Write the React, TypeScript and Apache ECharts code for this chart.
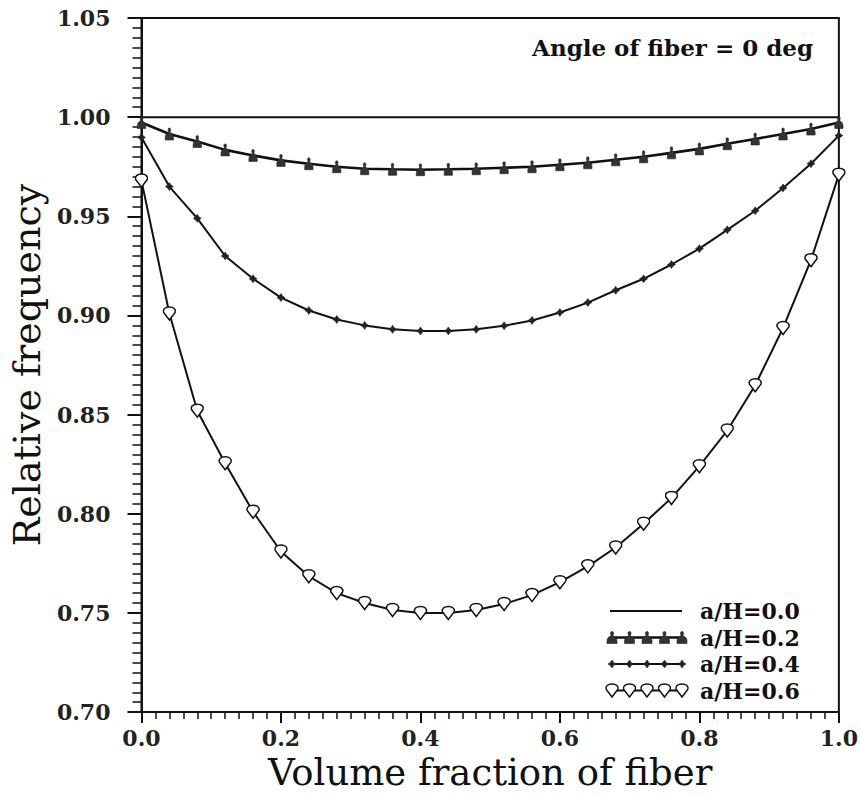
import React, { useEffect, useRef } from "react";
import * as echarts from "echarts";

// ---- data ----
const xValues = [0, 0.04, 0.08, 0.12, 0.16, 0.2, 0.24, 0.28, 0.32, 0.36, 0.4, 0.44, 0.48, 0.52, 0.56, 0.6, 0.64, 0.68, 0.72, 0.76, 0.8, 0.84, 0.88, 0.92, 0.96, 1.0];

const aH00 = [1, 1, 1, 1, 1, 1, 1, 1, 1, 1, 1, 1, 1, 1, 1, 1, 1, 1, 1, 1, 1, 1, 1, 1, 1, 1];

const aH02 = [0.9973, 0.9915, 0.9877, 0.9835, 0.9807, 0.9782, 0.9765, 0.975, 0.974, 0.9737, 0.9735, 0.9737, 0.974, 0.9745, 0.975, 0.976, 0.977, 0.9785, 0.98, 0.982, 0.984, 0.9866, 0.989, 0.9915, 0.994, 0.9973];

const aH04 = [0.9898, 0.965, 0.949, 0.93, 0.9185, 0.909, 0.9025, 0.898, 0.895, 0.893, 0.8922, 0.8922, 0.893, 0.8948, 0.8975, 0.9015, 0.9065, 0.9127, 0.9185, 0.9257, 0.9337, 0.9432, 0.9528, 0.9643, 0.9765, 0.9907];

const aH06 = [0.968, 0.901, 0.852, 0.8255, 0.801, 0.781, 0.7685, 0.76, 0.755, 0.7515, 0.75, 0.75, 0.7515, 0.7545, 0.759, 0.7655, 0.7735, 0.783, 0.795, 0.808, 0.824, 0.842, 0.8648, 0.8937, 0.9279, 0.971];

const seriesNames = ["a/H=0.0", "a/H=0.2", "a/H=0.4", "a/H=0.6"];
const titleText = "Angle of fiber = 0 deg";
const xAxisTitle = "Volume fraction of fiber";
const yAxisTitle = "Relative frequency";

// ---- marker shapes ----
const BELL = "M5,0 C6.6,0 7,1.8 6.1,3.4 L6.1,4.6 C8.7,5.1 10,7.2 10,9.6 L10,12 L0,12 L0,9.6 C0,7.2 1.3,5.1 3.9,4.6 L3.9,3.4 C3,1.8 3.4,0 5,0 Z";
const PIN = "M6.5,13 L0.7,5.4 C-0.5,2.2 2.4,0 6.5,0 C10.6,0 13.5,2.2 12.3,5.4 Z";
const STAR = "M4,0 L5.6,2.4 L8,4 L5.6,5.6 L4,8 L2.4,5.6 L0,4 L2.4,2.4 Z";

let registered = false;
function registerShapes() {
  if (registered) return;
  registered = true;
  echarts.graphic.registerShape("bellMark", echarts.graphic.extendPath(BELL, {}) as any);
  echarts.graphic.registerShape("pinMark", echarts.graphic.extendPath(PIN, {}) as any);
  echarts.graphic.registerShape("starMark", echarts.graphic.extendPath(STAR, {}) as any);
}

const FONT = "DejaVu Serif";
const INK = "#111";

function pairs(ys: number[]) {
  return xValues.map((x, i) => [x, ys[i]]);
}

export default function App() {
  const ref = useRef<HTMLDivElement>(null);

  useEffect(() => {
    if (!ref.current) return;
    registerShapes();
    const chart = echarts.init(ref.current, null, { renderer: "svg" });

    // legend drawn with graphics (line + 5 markers + text)
    const legendX1 = 610;
    const legendX2 = 682;
    const legendMarkX = [612, 629.5, 647, 664.5, 682];
    const legendRows = [611, 637.5, 664, 690.5];
    const legendGraphics: any[] = [];
    const markerDefs = [
      null,
      { type: "bellMark", w: 10, h: 12, fill: "#333", stroke: "#222", lw: 0.6 },
      { type: "starMark", w: 8, h: 8, fill: "#222", stroke: "#222", lw: 0.6 },
      { type: "pinMark", w: 13, h: 13, fill: "#fff", stroke: INK, lw: 1.5 },
    ];
    const lineWidths = [2, 2.6, 2, 2];
    legendRows.forEach((y, i) => {
      legendGraphics.push({
        type: "line",
        shape: { x1: legendX1, y1: y, x2: legendX2, y2: y },
        style: { stroke: INK, lineWidth: lineWidths[i] },
        z: 10,
      });
      const m = markerDefs[i];
      if (m) {
        legendMarkX.forEach((cx) => {
          legendGraphics.push({
            type: m.type,
            x: cx - m.w / 2,
            y: y - m.h / 2,
            style: { fill: m.fill, stroke: m.stroke, lineWidth: m.lw },
            z: 11,
          });
        });
      }
      legendGraphics.push({
        type: "text",
        x: 700,
        y: y,
        style: {
          text: seriesNames[i],
          fontFamily: FONT,
          fontWeight: "bold",
          fontSize: 22,
          lineHeight: 22,
          fill: INK,
          align: "left",
          verticalAlign: "middle",
        },
        z: 10,
      });
    });

    const option: any = {
      animation: false,
      backgroundColor: "#fff",
      grid: {
        show: true,
        left: 139,
        right: 19,
        top: 18,
        bottom: 78,
        borderColor: INK,
        borderWidth: 2,
        backgroundColor: "transparent",
      },
      xAxis: {
        type: "value",
        min: 0,
        max: 1,
        interval: 0.2,
        name: xAxisTitle,
        nameLocation: "middle",
        nameGap: 36,
        nameTextStyle: { fontFamily: FONT, fontSize: 37, color: INK },
        axisLine: { show: true, onZero: false, lineStyle: { color: INK, width: 2 } },
        axisTick: { show: true, length: 11, lineStyle: { color: INK, width: 2 } },
        minorTick: { show: true, splitNumber: 10, length: 7, lineStyle: { color: INK, width: 1.5 } },
        splitLine: { show: false },
        minorSplitLine: { show: false },
        axisLabel: {
          margin: 15,
          fontFamily: FONT,
          fontWeight: "bold",
          fontSize: 22,
          color: "#222",
          formatter: (v: number) => v.toFixed(1),
        },
      },
      yAxis: {
        type: "value",
        min: 0.7,
        max: 1.05,
        interval: 0.05,
        name: yAxisTitle,
        nameLocation: "middle",
        nameGap: 90,
        nameRotate: 90,
        nameTextStyle: { fontFamily: FONT, fontSize: 38, color: INK },
        axisLine: { show: true, onZero: false, lineStyle: { color: INK, width: 2 } },
        axisTick: { show: true, length: 14, lineStyle: { color: INK, width: 2 } },
        minorTick: { show: true, splitNumber: 10, length: 9, lineStyle: { color: INK, width: 1.5 } },
        splitLine: { show: false },
        minorSplitLine: { show: false },
        axisLabel: {
          margin: 31,
          fontFamily: FONT,
          fontWeight: "bold",
          fontSize: 22,
          color: "#222",
          formatter: (v: number) => v.toFixed(2),
        },
      },
      series: [
        {
          name: seriesNames[0],
          type: "line",
          data: pairs(aH00),
          showSymbol: false,
          symbol: "none",
          lineStyle: { color: INK, width: 2 },
          z: 2,
        },
        {
          name: seriesNames[1],
          type: "line",
          data: pairs(aH02),
          symbol: "path://" + BELL,
          symbolSize: [10, 12],
          symbolKeepAspect: true,
          itemStyle: { color: "#333", borderColor: "#222", borderWidth: 0.6 },
          lineStyle: { color: INK, width: 2.6 },
          z: 3,
        },
        {
          name: seriesNames[2],
          type: "line",
          data: pairs(aH04),
          symbol: "path://" + STAR,
          symbolSize: [8, 8],
          itemStyle: { color: "#222", borderColor: "#222", borderWidth: 0.6 },
          lineStyle: { color: INK, width: 2 },
          z: 3,
        },
        {
          name: seriesNames[3],
          type: "line",
          data: pairs(aH06),
          symbol: "path://" + PIN,
          symbolSize: [13, 13],
          symbolKeepAspect: true,
          itemStyle: { color: "#fff", borderColor: INK, borderWidth: 1.5 },
          lineStyle: { color: INK, width: 2 },
          z: 3,
        },
      ],
      graphic: [
        {
          type: "text",
          x: 813,
          y: 47,
          style: {
            text: titleText,
            fontFamily: FONT,
            fontWeight: "bold",
            fontSize: 23,
            fill: INK,
            align: "right",
            verticalAlign: "middle",
          },
          z: 10,
        },
        ...legendGraphics,
      ],
    };

    chart.setOption(option);
    return () => {
      chart.dispose();
    };
  }, []);

  return (
    <div
      ref={ref}
      style={{ position: "fixed", left: 0, top: 0, width: 861, height: 796, background: "#fff" }}
    />
  );
}
